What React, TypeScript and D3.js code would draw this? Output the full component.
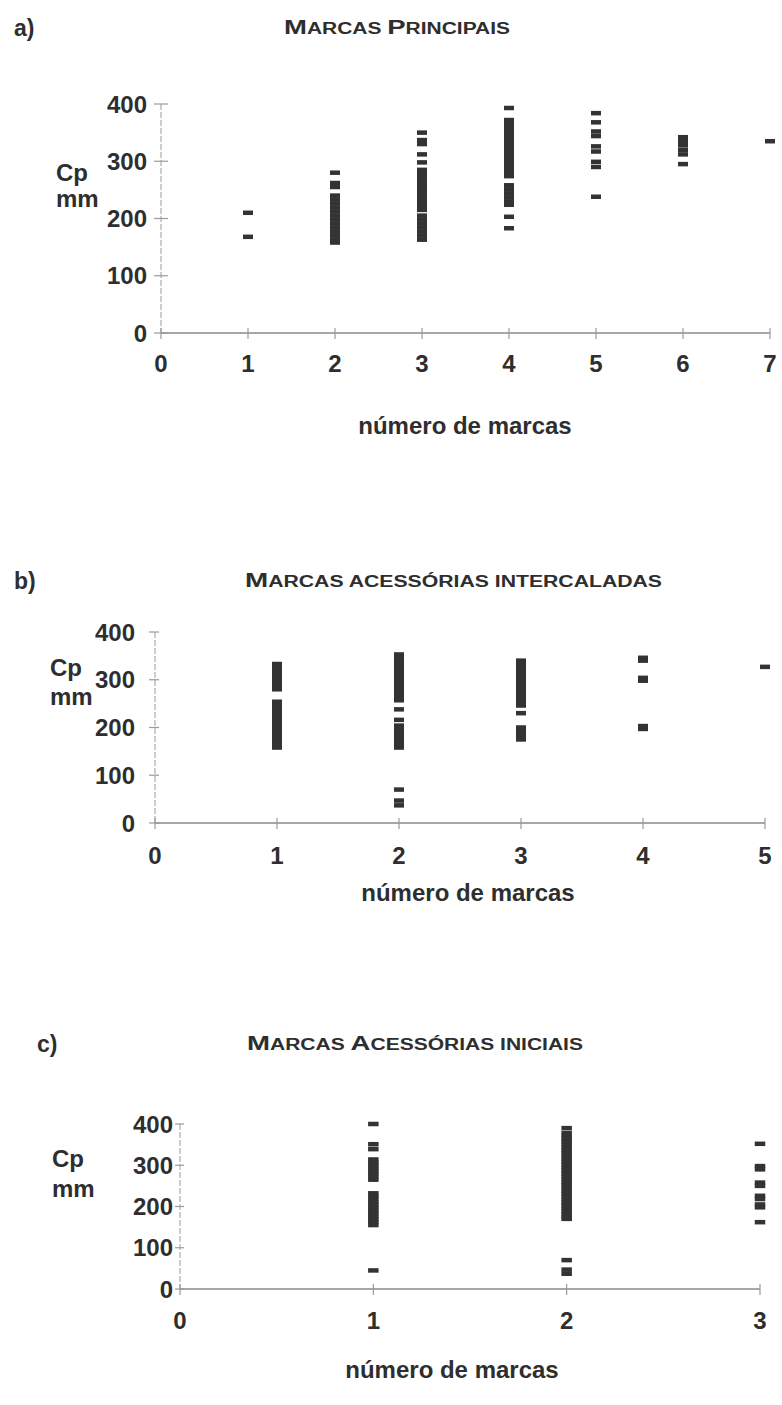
import React from "react";
import * as d3 from "d3";

// ---------- DATA ----------
const yTicks = [0, 100, 200, 300, 400];
const xTicksA = [0, 1, 2, 3, 4, 5, 6, 7];
const xTicksB = [0, 1, 2, 3, 4, 5];
const xTicksC = [0, 1, 2, 3];

// Panel a) Marcas principais : Cp (mm) per número de marcas
const cpA1 = [210, 168];
const cpA2 = [280, 262, 255, 240, 233, 226, 219, 212, 205, 198, 191, 184, 177, 170, 163, 158];
const cpA3 = [350, 337, 330, 312, 298, 285, 278, 271, 264, 257, 250, 243, 236, 229, 222, 215, 205, 198, 191, 184, 177, 170, 163];
const cpA4 = [393, 372, 365, 358, 351, 344, 337, 330, 323, 316, 309, 302, 295, 288, 281, 274, 258, 251, 244, 237, 230, 224, 203, 183];
const cpA5 = [384, 368, 352, 344, 326, 317, 299, 290, 238];
const cpA6 = [342, 335, 328, 320, 312, 295];
const cpA7 = [335];

// Panel b) Marcas acessórias intercaladas
const cpB1 = [333, 326, 319, 312, 305, 298, 291, 284, 280, 254, 247, 240, 233, 226, 219, 212, 205, 198, 191, 184, 177, 170, 163, 158];
const cpB2 = [353, 346, 339, 332, 325, 318, 311, 304, 297, 290, 283, 276, 269, 262, 257, 238, 216, 204, 197, 190, 183, 176, 169, 162, 158, 70, 47, 37];
const cpB3 = [340, 333, 326, 319, 312, 305, 298, 291, 284, 277, 270, 263, 256, 249, 246, 230, 200, 193, 186, 179, 175];
const cpB4 = [346, 340, 304, 298, 203, 197];
const cpB5 = [327];

// Panel c) Marcas acessórias iniciais
const cpC1 = [400, 351, 339, 314, 307, 300, 293, 286, 279, 272, 265, 232, 225, 218, 211, 204, 197, 190, 183, 176, 169, 162, 155, 45];
const cpC2 = [390, 378, 371, 364, 357, 350, 343, 336, 329, 322, 315, 308, 301, 294, 287, 280, 273, 266, 259, 252, 245, 238, 231, 224, 217, 210, 203, 196, 189, 182, 175, 170, 70, 47, 37];
const cpC3 = [352, 298, 290, 258, 250, 226, 218, 205, 198, 162];

const titleA: [string, boolean][] = [["M", true], ["ARCAS ", false], ["P", true], ["RINCIPAIS", false]];
const titleB: [string, boolean][] = [["M", true], ["ARCAS ACESSÓRIAS INTERCALADAS", false]];
const titleC: [string, boolean][] = [["M", true], ["ARCAS ", false], ["A", true], ["CESSÓRIAS INICIAIS", false]];

const FONT = "'Liberation Sans', Arial, Helvetica, sans-serif";
const INK = "#2e2e2e";
const AXIS = "#9a9a9a";

type PanelCfg = {
  letter: string;
  letterX: number;
  letterY: number;
  title: [string, boolean][];
  titleX: number;
  titleY: number;
  titleLen: number;
  xDomain: [number, number];
  xRange: [number, number];
  yRange: [number, number];
  xTicks: number[];
  series: [number, number[]][];
  yLabX: number;
  cpY: number;
  mmY: number;
  cpX: number;
  xTickLabelY: number;
  xLabelX: number;
  xLabelY: number;
  yTickOut: number;
  yTickIn: number;
  fontSize: number;
  markW: number;
  markH: number;
};

function Panel({ c }: { c: PanelCfg }) {
  const x = d3.scaleLinear().domain(c.xDomain).range(c.xRange);
  const y = d3.scaleLinear().domain([0, 400]).range(c.yRange);
  const x0 = x(0);
  const y0 = y(0);
  const pts: { xv: number; yv: number }[] = [];
  c.series.forEach(([xv, arr]) => arr.forEach((yv) => pts.push({ xv, yv })));
  return (
    <g fontFamily={FONT} fontWeight="bold" fill={INK}>
      <text x={c.letterX} y={c.letterY} fontSize={23}>{c.letter}</text>
      <text x={c.titleX} y={c.titleY} textLength={c.titleLen} lengthAdjust="spacingAndGlyphs">
        {c.title.map(([t, big], i) => (
          <tspan key={i} fontSize={big ? 21 : 16}>{t}</tspan>
        ))}
      </text>
      {/* axes */}
      <line x1={x0} x2={x0} y1={y(400)} y2={y0} stroke={AXIS} strokeWidth={1} strokeDasharray="6 2" />
      <line x1={x0} x2={x(c.xDomain[1])} y1={y0} y2={y0} stroke="#8a8a8a" strokeWidth={1.3} />
      {yTicks.map((t) => (
        <g key={"y" + t}>
          <line x1={x0 - c.yTickOut} x2={x0 + c.yTickIn} y1={y(t)} y2={y(t)} stroke={AXIS} strokeWidth={1.2} />
          <text x={c.yLabX} y={y(t) + c.fontSize * 0.36} fontSize={c.fontSize} textAnchor="end">{t}</text>
        </g>
      ))}
      {c.xTicks.map((t) => (
        <g key={"x" + t}>
          <line x1={x(t)} x2={x(t)} y1={y0 - 5} y2={y0 + 6} stroke={AXIS} strokeWidth={1.2} />
          <text x={x(t)} y={c.xTickLabelY} fontSize={c.fontSize} textAnchor="middle">{t}</text>
        </g>
      ))}
      <text x={c.cpX} y={c.cpY} fontSize={c.fontSize}>Cp</text>
      <text x={c.cpX} y={c.mmY} fontSize={c.fontSize}>mm</text>
      <text x={c.xLabelX} y={c.xLabelY} fontSize={c.fontSize} textAnchor="middle">número de marcas</text>
      {pts.map((p, i) => (
        <rect key={i} x={x(p.xv) - c.markW / 2} y={y(p.yv) - c.markH / 2} width={c.markW} height={c.markH} fill="#333" />
      ))}
    </g>
  );
}

const panels: PanelCfg[] = [
  {
    letter: "a)", letterX: 14, letterY: 36,
    title: titleA, titleX: 284, titleY: 34, titleLen: 226,
    xDomain: [0, 7], xRange: [161, 770], yRange: [333, 104], xTicks: xTicksA,
    series: [[1, cpA1], [2, cpA2], [3, cpA3], [4, cpA4], [5, cpA5], [6, cpA6], [7, cpA7]],
    yLabX: 147, cpX: 56, cpY: 181, mmY: 207, xTickLabelY: 372,
    xLabelX: 465, xLabelY: 434,
    yTickOut: 7, yTickIn: 7, fontSize: 24, markW: 10, markH: 4.5,
  },
  {
    letter: "b)", letterX: 14, letterY: 589,
    title: titleB, titleX: 245, titleY: 587, titleLen: 417,
    xDomain: [0, 5], xRange: [155, 765], yRange: [823, 632], xTicks: xTicksB,
    series: [[1, cpB1], [2, cpB2], [3, cpB3], [4, cpB4], [5, cpB5]],
    yLabX: 135, cpX: 50, cpY: 676, mmY: 705, xTickLabelY: 864,
    xLabelX: 468, xLabelY: 901,
    yTickOut: 6, yTickIn: 4, fontSize: 24, markW: 10, markH: 4.5,
  },
  {
    letter: "c)", letterX: 37, letterY: 1052,
    title: titleC, titleX: 247, titleY: 1050, titleLen: 336,
    xDomain: [0, 3], xRange: [180, 760], yRange: [1289, 1124], xTicks: xTicksC,
    series: [[1, cpC1], [2, cpC2], [3, cpC3]],
    yLabX: 173, cpX: 52, cpY: 1167, mmY: 1197, xTickLabelY: 1329,
    xLabelX: 452, xLabelY: 1378,
    yTickOut: 5, yTickIn: 4, fontSize: 24, markW: 10.5, markH: 4.5,
  },
];

export default function App() {
  return (
    <svg width={782} height={1405} style={{ position: "absolute", left: 0, top: 0, background: "#fff" }}>
      <rect width={782} height={1405} fill="#fff" />
      {panels.map((p, i) => (
        <Panel key={i} c={p} />
      ))}
    </svg>
  );
}
